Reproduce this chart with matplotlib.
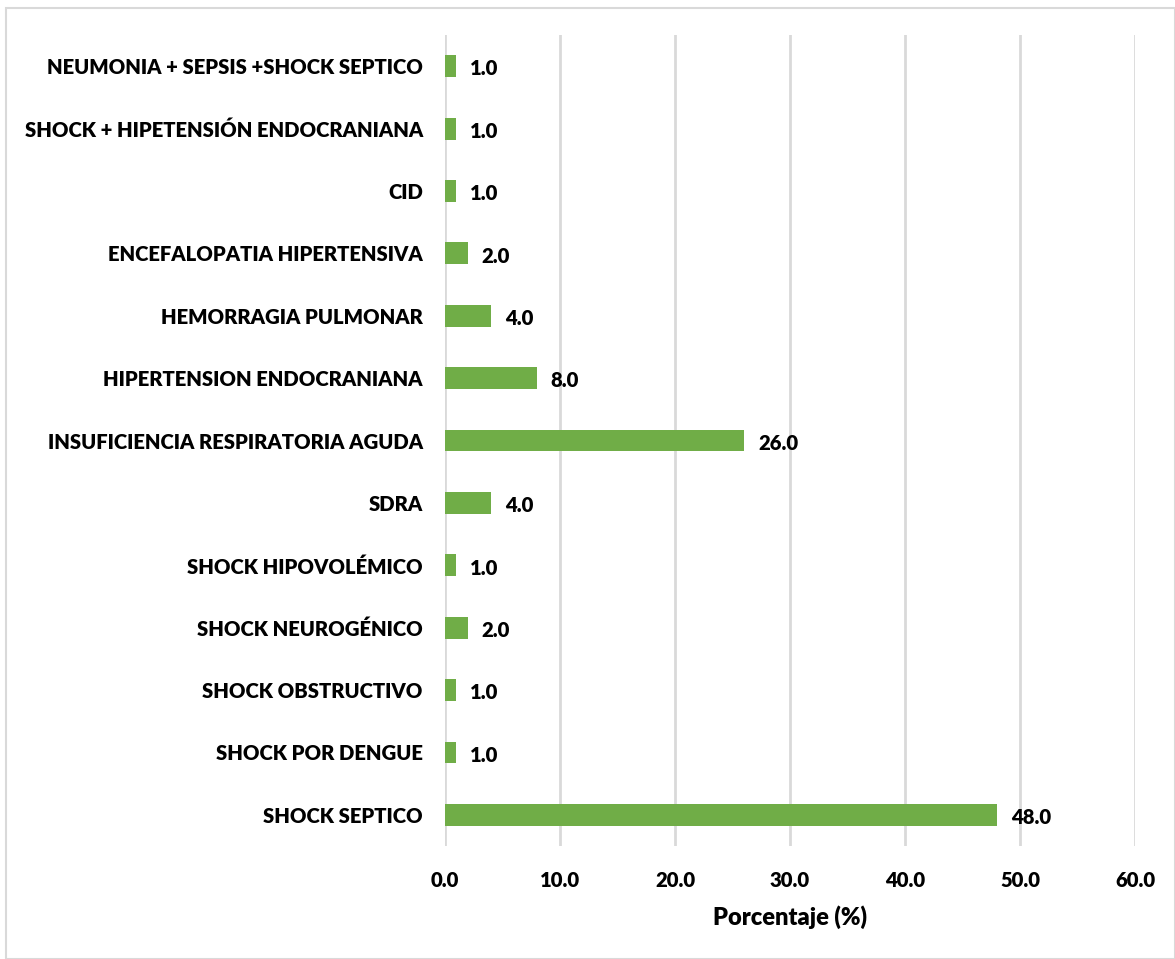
import matplotlib
matplotlib.use("Agg")
import matplotlib.pyplot as plt
from matplotlib.patches import Rectangle

# ============================================
# DATA
# ============================================
categories = [
    "SHOCK SEPTICO",
    "SHOCK POR DENGUE",
    "SHOCK OBSTRUCTIVO",
    "SHOCK NEUROGÉNICO",
    "SHOCK HIPOVOLÉMICO",
    "SDRA",
    "INSUFICIENCIA RESPIRATORIA AGUDA",
    "HIPERTENSION ENDOCRANIANA",
    "HEMORRAGIA PULMONAR",
    "ENCEFALOPATIA HIPERTENSIVA",
    "CID",
    "SHOCK + HIPETENSIÓN ENDOCRANIANA",
    "NEUMONIA + SEPSIS +SHOCK SEPTICO",
]
values = [48.0, 1.0, 1.0, 2.0, 1.0, 4.0, 26.0, 8.0, 4.0, 2.0, 1.0, 1.0, 1.0]
x_ticks = [0, 10, 20, 30, 40, 50, 60]

# ============================================
# PLOT
# ============================================
plt.rcParams["font.family"] = ["Lato", "DejaVu Sans"]
FS = 14.6
W = "heavy"

fig = plt.figure(figsize=(11.75, 9.59), dpi=100)
ax = fig.add_axes([0.3787, 0.1178, 0.5873, 0.8457])

bar_color = "#70AD47"
ypos = list(range(len(categories)))
ax.barh(ypos, values, height=0.35, color=bar_color, zorder=3)

for y, v in zip(ypos, values):
    ax.annotate(f"{v:.1f}", xy=(v, y), xytext=(10, -2), textcoords="offset points",
                ha="left", va="center", fontsize=FS, fontweight=W, color="black")

ax.set_xlim(0, 60)
ax.set_ylim(-0.5, len(categories) - 0.5)
ax.set_xticks(x_ticks)
ax.set_xticklabels([f"{t:.1f}" for t in x_ticks], fontsize=FS, fontweight=W)
ax.set_yticks(ypos)
ax.set_yticklabels(categories, fontsize=FS, fontweight=W)
ax.tick_params(axis="y", length=0, pad=16)
ax.tick_params(axis="x", length=0, pad=18)
for lbl in ax.get_yticklabels():
    lbl.set_va("center_baseline")

ax.grid(axis="x", color="#D9D9D9", linewidth=2, zorder=0)
for s in ax.spines.values():
    s.set_visible(False)

ax.set_xlabel("Porcentaje (%)", fontsize=17, fontweight=W, labelpad=11)

fig.patches.append(Rectangle((0.005, 0.0), 0.995, 0.992, transform=fig.transFigure,
                             fill=False, edgecolor="#D9D9D9", linewidth=1.5))

fig.savefig("out.png", dpi=100)
